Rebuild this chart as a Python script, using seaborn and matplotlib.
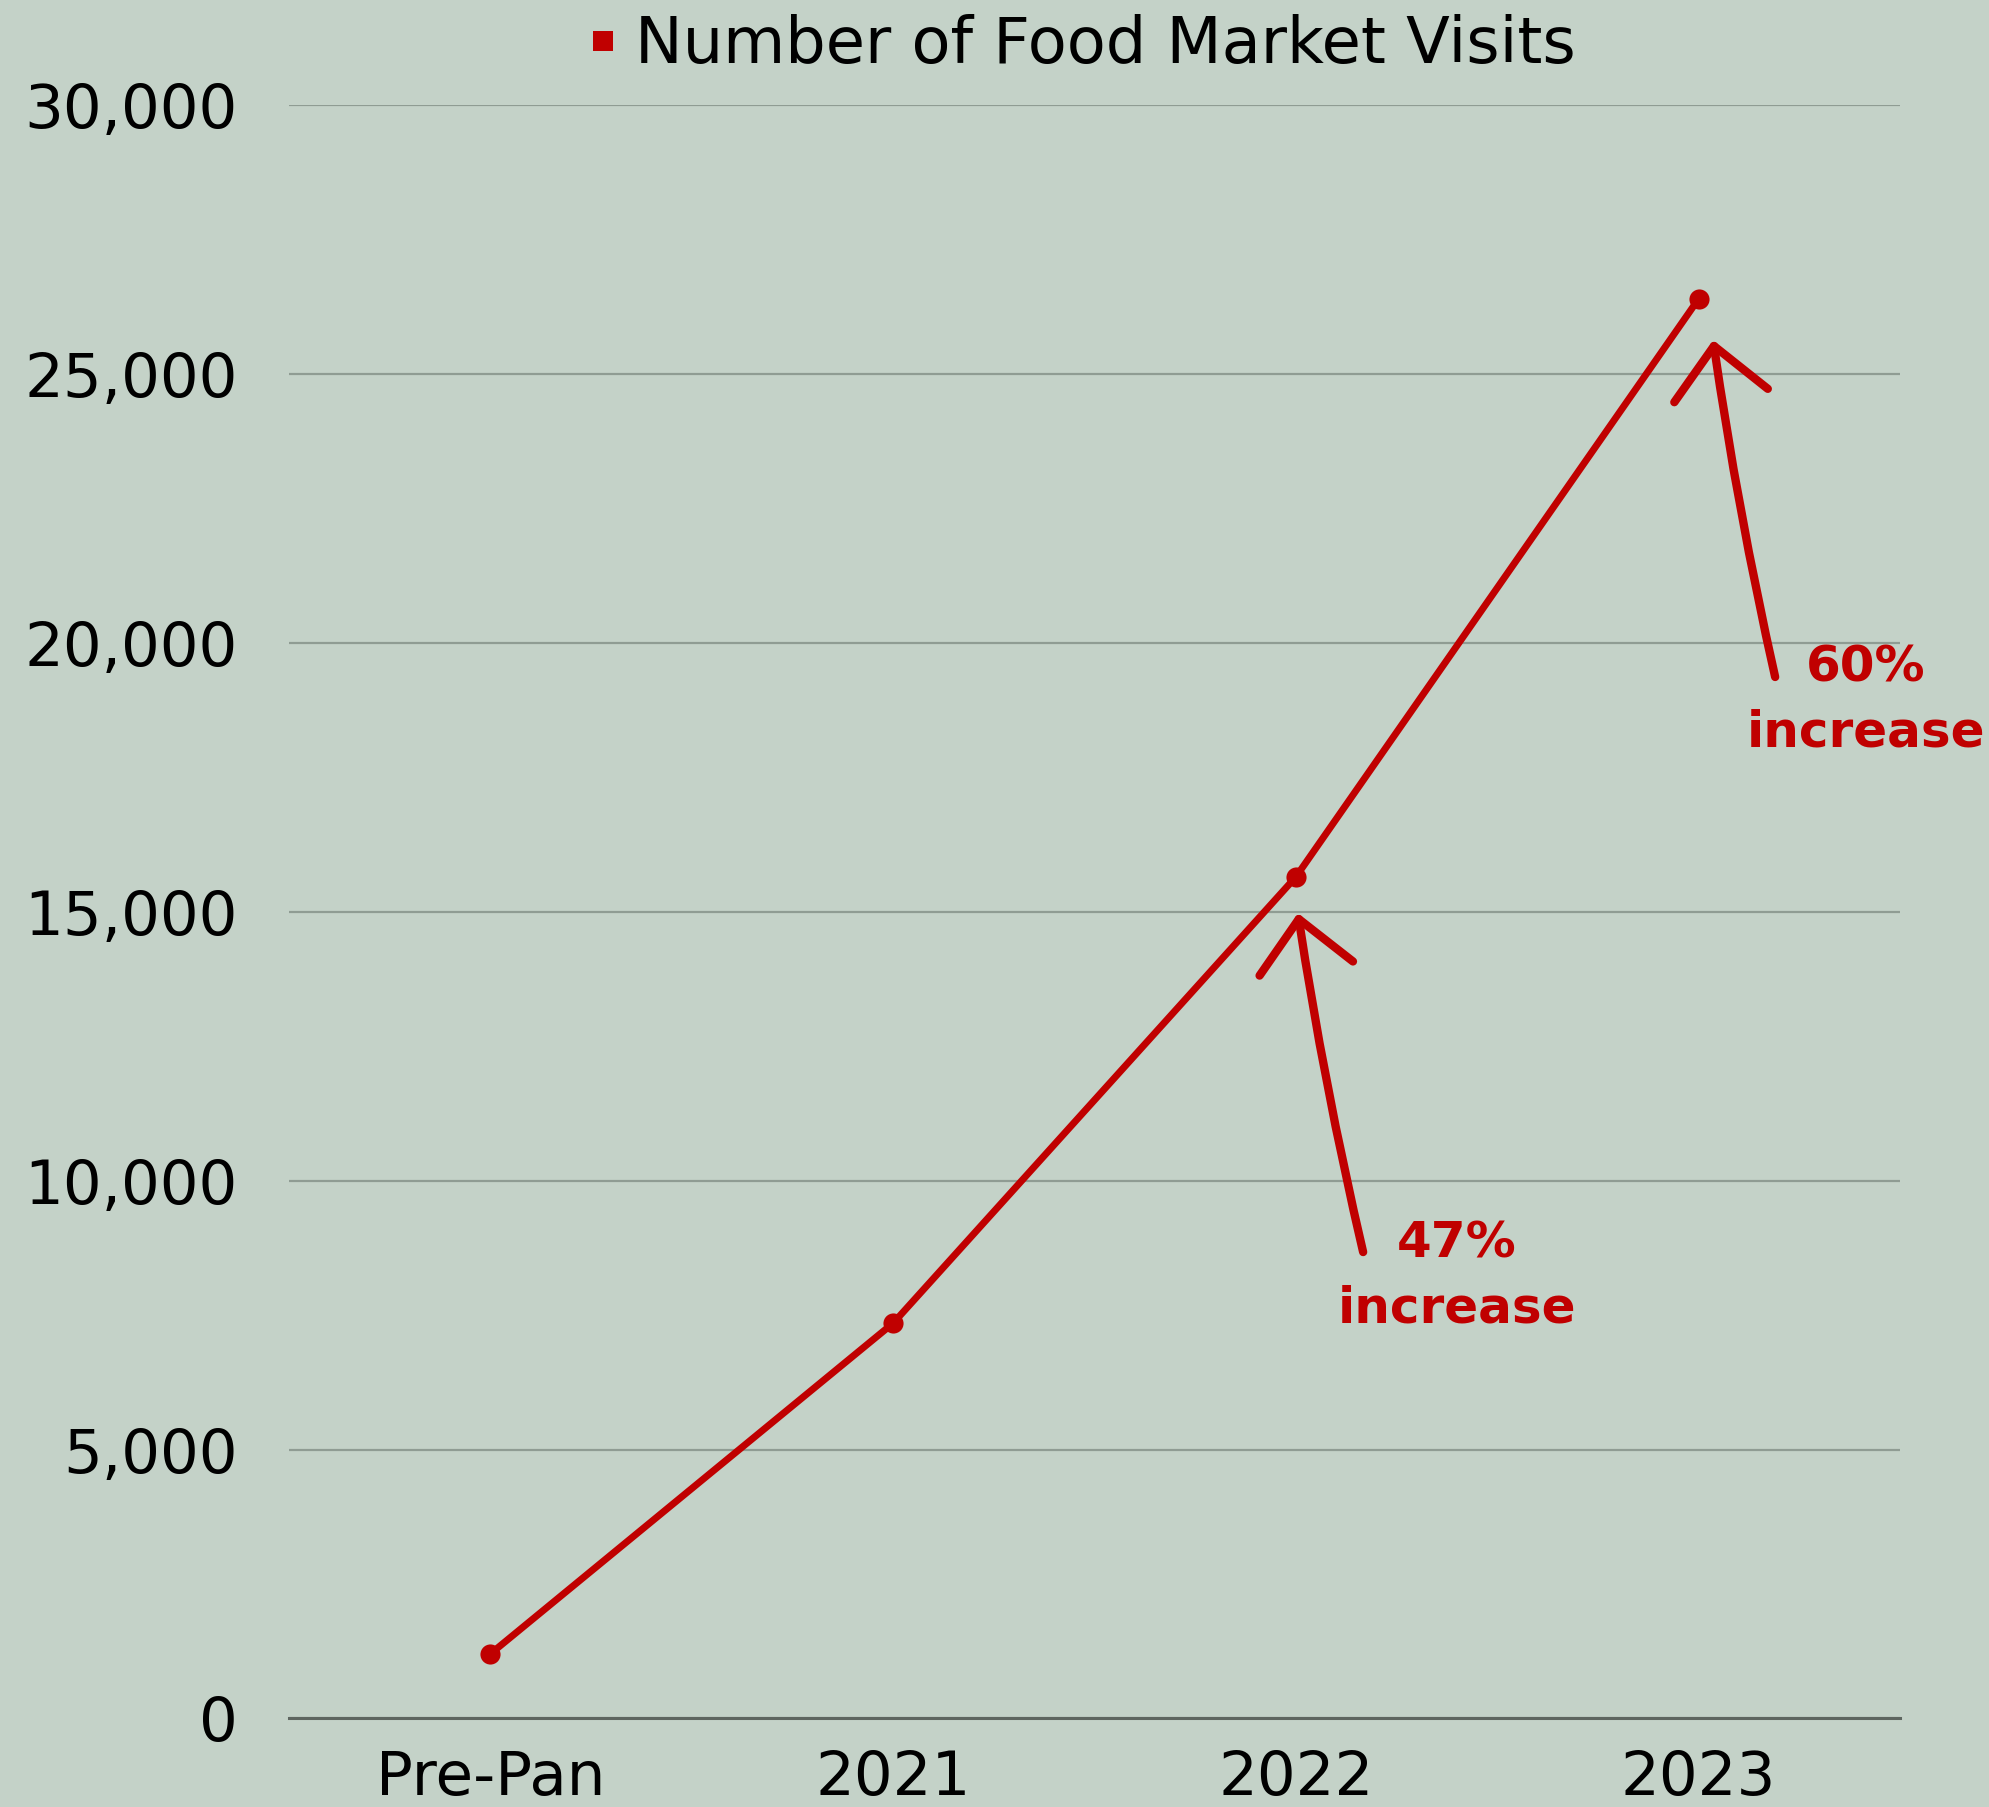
import matplotlib
matplotlib.use("Agg")
import matplotlib.pyplot as plt
import seaborn as sns
import pandas as pd
from matplotlib.ticker import FuncFormatter
from matplotlib.lines import Line2D

# ---- data ----
categories = ["Pre-Pan", "2021", "2022", "2023"]
visits = [1200, 7350, 15650, 26400]
series_name = "Number of Food Market Visits"
annot_labels = ["47%\nincrease", "60%\nincrease"]
annot_index = [2, 3]

BG = "#C4D2C8"
RED = "#C00000"
GRID = "#8F9C93"
AXIS = "#5E6660"

sns.set_theme(style="white")
plt.rcParams["font.family"] = ["DejaVu Sans"]

df = pd.DataFrame({"cat": categories, "val": visits})

fig = plt.figure(figsize=(19.9, 18.07), dpi=100, facecolor=BG)
ax = fig.add_axes([289 / 1990, 1 - 1718.4 / 1807, 1611 / 1990, (1718.4 - 105.3) / 1807])
ax.set_facecolor(BG)

sns.lineplot(data=df, x="cat", y="val", sort=False, ax=ax, color=RED,
             linewidth=5, marker="o", markersize=14.5, markeredgewidth=0,
             markerfacecolor=RED, legend=False)

ax.set_xlim(-0.5, 3.5)
ax.set_ylim(0, 30000)
ax.set_yticks(range(0, 30001, 5000))
ax.yaxis.set_major_formatter(FuncFormatter(lambda v, p: f"{int(v):,}"))
ax.set_xlabel("")
ax.set_ylabel("")

ax.grid(axis="y", color=GRID, linewidth=1.6)
ax.grid(axis="x", visible=False)
ax.set_axisbelow(True)
for s in ["top", "right", "left"]:
    ax.spines[s].set_visible(False)
ax.spines["bottom"].set_color(AXIS)
ax.spines["bottom"].set_linewidth(2.2)
ax.tick_params(axis="y", length=0, pad=37, labelsize=44, labelcolor="black")
ax.tick_params(axis="x", length=0, pad=22, labelsize=44, labelcolor="black")

# legend
handle = Line2D([], [], linestyle="none", marker="s", markersize=14,
                markerfacecolor=RED, markeredgewidth=0)
fig.legend([handle], [series_name], loc="center",
           bbox_to_anchor=(1080 / 1990, 1 - 45 / 1807), frameon=False,
           fontsize=46, handlelength=0.6, handletextpad=0.2, borderpad=0,
           labelcolor="black")

# hand-drawn style arrows and labels
arrow_geo = {
    2: dict(head=(2.005, 14977), tail=(2.167, 8673), text=(2.40, 7355)),
    3: dict(head=(3.036, 25635), tail=(3.190, 19368), text=(3.416, 18068)),
}
for lab, idx in zip(annot_labels, annot_index):
    g = arrow_geo[idx]
    ax.annotate("", xy=g["head"], xytext=g["tail"],
                arrowprops=dict(arrowstyle="->,head_length=1.8,head_width=1.7",
                                lw=6, color=RED, mutation_scale=20,
                                shrinkA=0, shrinkB=0,
                                connectionstyle="arc3,rad=-0.02"),
                annotation_clip=False)
    ax.text(g["text"][0], g["text"][1], lab, color=RED, fontsize=36,
            fontweight="bold", ha="center", va="baseline",
            linespacing=1.45, clip_on=False)

fig.savefig("out.png", dpi=100, facecolor=BG)
